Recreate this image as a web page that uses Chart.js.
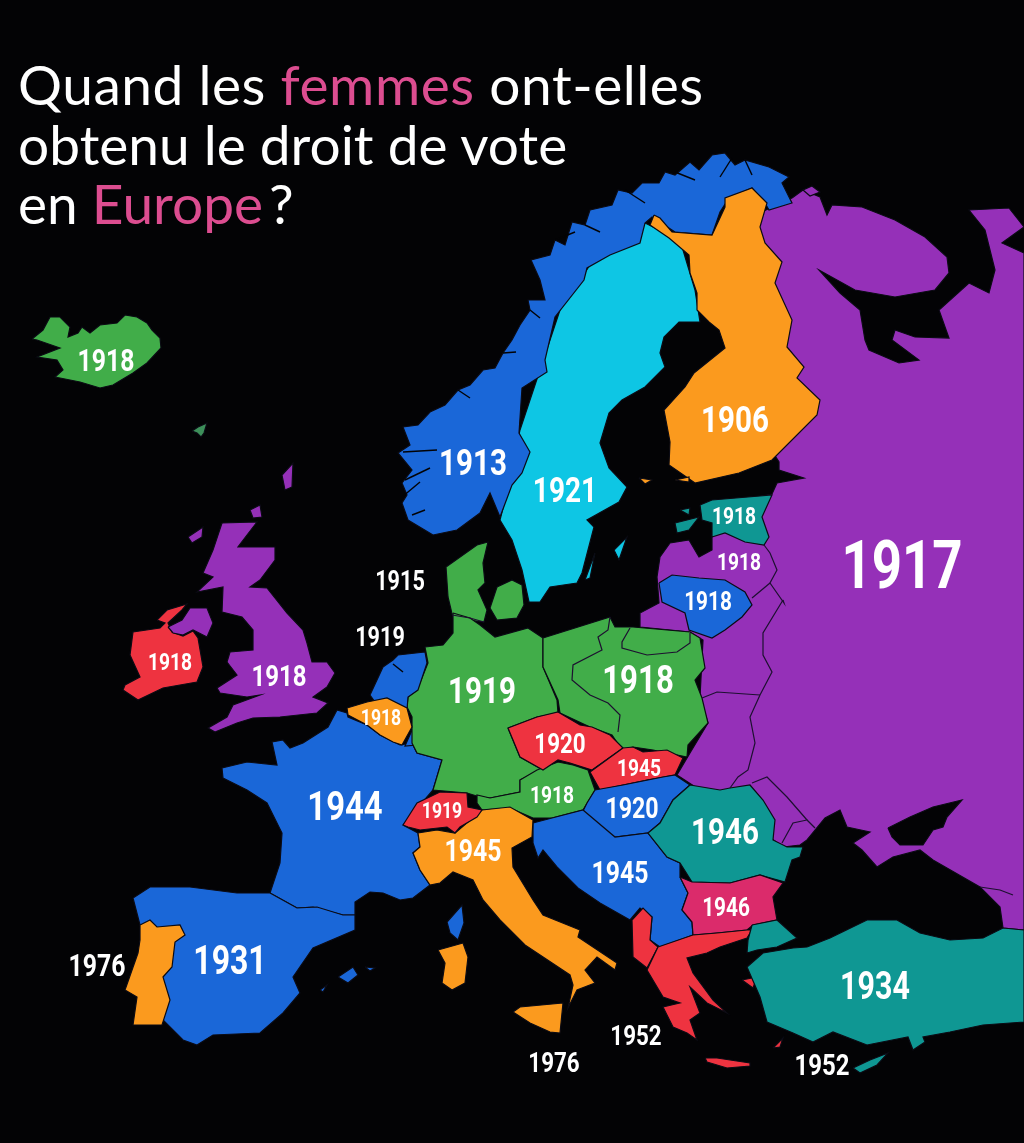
<!DOCTYPE html>
<html lang="fr">
<head>
    <meta charset="UTF-8">
    <title>Droit de vote des femmes en Europe</title>
    <script src="https://cdn.jsdelivr.net/npm/chart.js"></script>
    <style>
        html, body { margin: 0; padding: 0; background: #030305; }
        #wrap { position: relative; width: 1024px; height: 1143px; overflow: hidden; }
        #myChart { position: absolute; left: 0; top: 0; }
        #title {
            position: absolute; left: 18px; top: 55px; margin: 0;
            font: 400 55px/59.5px Lato, sans-serif; color: #fff; white-space: nowrap;
        }
        #title span { color: #dc4d90; }
        #title .wide { color: #fff; letter-spacing: 0.55px; }
        #title .wide span { color: #dc4d90; }
        #title .mark { color: #fff; margin-left: 6px; }
    </style>
</head>
<body>
<div id="wrap">
    <canvas id="myChart" width="1024" height="1143"></canvas>
    <h1 id="title"><span class="wide">Quand les <span>femmes</span> ont-elles</span><br>obtenu le droit de vote<br>en <span>Europe</span><span class="mark">?</span></h1>
</div>

<script>
    // contours des pays (unités de la carte)
    const russia = [[792,198],[803,190],[820,197],[827,215],[832,205],[862,207],[895,220],[925,237],[947,257],[949,273],[935,290],[895,297],[855,290],[819,270],[840,293],[860,310],[865,340],[869,350],[899,363],[919,360],[892,340],[895,330],[915,337],[949,338],[939,310],[969,283],[989,293],[995,270],[985,230],[969,210],[1009,208],[1024,227],[1002,243],[1024,253],[1024,930],[1003,928],[1000,907],[980,887],[933,860],[920,850],[893,857],[877,867],[862,850],[853,843],[870,832],[847,827],[840,810],[825,818],[807,840],[800,845],[783,847],[760,830],[700,790],[677,775],[690,753],[708,723],[700,697],[703,640],[690,632],[640,627],[640,613],[659,603],[657,577],[660,557],[670,543],[689,540],[699,557],[712,550],[712,535],[730,525],[740,500],[772,494],[777,483],[804,478],[779,470],[779,462],[765,440],[750,400],[740,300],[745,220],[770,208]];
    const kolguev = [[803,190],[812,186],[820,192],[810,196]];
    const azov = [[888,828],[910,817],[933,807],[962,800],[947,817],[943,827],[933,830],[923,845],[900,845],[892,837]];
    const sweden = [[645,223],[680,240],[695,290],[700,322],[679,322],[664,337],[660,353],[665,367],[645,387],[622,400],[609,413],[600,443],[609,468],[627,487],[619,502],[587,520],[594,527],[582,573],[577,583],[550,587],[540,602],[529,602],[522,570],[512,540],[500,520],[510,480],[520,430],[540,370],[560,310],[590,265]];
    const gotland = [[614,550],[627,537],[619,560]];
    const oland = [[585,580],[595,553],[590,578]];
    const norway = [[433,535],[408,520],[402,503],[407,495],[402,483],[412,470],[398,453],[410,445],[403,427],[418,425],[430,412],[445,405],[458,390],[470,385],[483,370],[495,368],[503,353],[512,340],[520,325],[530,310],[528,300],[545,300],[540,280],[531,260],[550,255],[555,240],[565,245],[572,222],[585,225],[590,210],[612,205],[618,190],[632,193],[642,183],[659,183],[665,172],[675,175],[690,162],[699,170],[712,155],[725,153],[735,165],[745,160],[769,167],[789,177],[782,183],[792,203],[769,210],[765,203],[752,188],[729,198],[720,212],[712,235],[675,232],[652,217],[645,223],[640,243],[610,255],[587,268],[584,280],[555,317],[545,360],[547,372],[522,388],[519,433],[530,452],[522,473],[512,485],[500,517],[490,493],[480,513],[457,530]];
    const finland = [[654,215],[660,218],[672,232],[712,235],[725,207],[725,198],[752,188],[767,203],[760,227],[765,243],[782,262],[775,283],[792,320],[787,347],[804,367],[797,378],[820,400],[817,415],[772,460],[739,473],[695,483],[669,465],[670,442],[664,410],[685,387],[694,373],[725,348],[719,330],[709,322],[697,310],[697,293],[690,273],[689,255],[669,238],[650,225]];
    const aland1 = [[639,478],[652,480],[645,484]];
    const aland2 = [[675,480],[689,477],[689,482]];
    const estonia = [[700,505],[712,500],[772,495],[762,517],[769,537],[764,545],[745,542],[725,533],[712,537],[712,523],[702,520]];
    const saaremaa = [[675,523],[699,517],[689,530],[677,533]];
    const hiiumaa = [[680,510],[690,508],[689,515]];
    const lithuania = [[659,583],[672,575],[699,578],[725,580],[745,592],[752,605],[742,617],[725,630],[712,638],[689,630],[685,613],[662,602]];
    const iceland = [[32,339],[43,330],[50,317],[60,317],[70,327],[68,337],[78,333],[82,327],[90,333],[100,325],[117,323],[125,315],[137,317],[147,323],[152,330],[160,338],[161,348],[147,363],[133,373],[113,385],[100,388],[80,382],[55,377],[63,370],[57,360],[37,357],[60,348],[37,340]];
    const faroe = [[192,431],[198,427],[207,423],[204,433],[201,437],[197,433]];
    const shetland = [[282,475],[293,463],[292,487],[285,490]];
    const orkney = [[250,510],[260,505],[262,517],[253,518]];
    const hebrides = [[188,537],[203,527],[202,537],[192,543]];
    const britain = [[222,523],[257,522],[247,535],[238,547],[275,547],[275,560],[260,580],[250,587],[267,588],[287,613],[303,630],[307,643],[312,662],[327,662],[335,673],[327,687],[313,697],[328,703],[317,713],[280,717],[253,718],[237,723],[215,732],[208,728],[227,717],[233,705],[260,695],[247,697],[220,693],[217,688],[237,675],[227,662],[230,652],[253,650],[253,630],[242,617],[222,612],[223,587],[197,592],[213,577],[203,573],[213,550]];
    const ulster = [[168,627],[182,620],[190,608],[207,608],[213,623],[207,637],[193,630],[183,635],[173,633]];
    const ireland = [[157,620],[167,610],[187,604],[182,610],[168,623],[172,632],[183,636],[193,631],[198,638],[203,667],[197,682],[163,688],[138,700],[123,690],[125,685],[140,677],[130,655],[133,632],[160,628],[165,623]];
    const jutland = [[477,545],[488,542],[483,563],[485,583],[478,590],[487,610],[484,622],[453,618],[448,597],[446,567]];
    const zealand = [[497,587],[512,580],[522,585],[524,605],[517,618],[497,620],[490,608]];
    const germany = [[453,613],[470,618],[480,625],[495,637],[528,628],[543,638],[543,667],[557,700],[558,713],[537,717],[508,728],[520,757],[543,770],[520,780],[520,792],[490,798],[480,797],[467,793],[433,790],[442,760],[417,753],[412,743],[412,717],[407,707],[408,697],[417,690],[428,663],[425,647],[443,645],[453,633]];
    const poland = [[543,638],[610,617],[615,627],[633,627],[690,632],[700,638],[705,668],[695,680],[702,698],[708,723],[688,745],[687,757],[653,750],[633,747],[622,750],[612,735],[590,727],[560,713],[558,700],[543,667]];
    const austria = [[520,780],[537,770],[558,762],[573,765],[588,770],[595,790],[583,810],[552,818],[533,818],[510,808],[482,810],[477,803],[477,795],[490,798],[520,792]];
    const czech = [[508,728],[537,717],[558,712],[580,725],[592,727],[610,735],[623,748],[592,770],[570,763],[558,760],[543,770],[520,757],[513,740]];
    const slovakia = [[623,748],[633,747],[643,752],[667,750],[683,758],[675,775],[647,780],[623,785],[600,790],[590,772]];
    const hungary = [[595,790],[623,785],[663,777],[675,775],[690,785],[673,800],[660,823],[648,833],[615,837],[597,827],[582,813],[587,803]];
    const romania = [[690,785],[720,790],[730,788],[750,785],[763,800],[775,820],[773,840],[787,847],[803,847],[800,857],[792,860],[785,882],[760,875],[730,883],[692,882],[680,863],[667,857],[648,833],[660,823],[673,800]];
    const bulgaria = [[680,877],[692,882],[730,883],[760,875],[783,883],[773,897],[777,920],[753,925],[747,930],[717,933],[693,935],[692,922],[682,910],[688,893]];
    const yugoslavia = [[533,823],[552,818],[583,810],[615,837],[648,833],[667,857],[680,863],[680,877],[688,893],[682,910],[692,922],[693,935],[660,947],[650,940],[652,917],[640,908],[630,920],[600,903],[578,888],[557,867],[543,850],[538,858],[533,843]];
    const albania = [[632,920],[643,908],[652,917],[650,940],[658,947],[647,968],[633,957]];
    const greece = [[658,947],[693,935],[717,933],[747,930],[752,930],[747,938],[720,947],[707,953],[687,958],[693,973],[713,1000],[727,1013],[707,1003],[690,987],[700,1013],[690,1020],[697,1040],[687,1033],[673,1027],[663,1007],[680,1003],[663,997],[647,970]];
    const crete = [[705,1058],[717,1058],[750,1063],[750,1066],[727,1068],[707,1062]];
    const rhodes = [[773,1048],[783,1038],[780,1047]];
    const lesbos = [[742,980],[757,977],[753,988]];
    const thrace = [[752,925],[777,920],[797,938],[777,947],[757,950],[747,953],[748,940]];
    const anatolia = [[807,947],[830,938],[867,920],[897,920],[920,933],[950,940],[983,938],[1003,928],[1024,930],[1024,1022],[983,1025],[950,1032],[923,1037],[925,1042],[913,1050],[908,1037],[867,1045],[833,1032],[813,1042],[793,1033],[767,1022],[760,997],[747,967],[763,953],[793,948]];
    const cyprus = [[853,1068],[870,1060],[888,1053],[877,1065],[860,1073]];
    const italy = [[437,830],[455,833],[482,810],[510,807],[533,820],[532,837],[512,848],[513,867],[533,900],[543,915],[580,930],[578,937],[617,963],[615,970],[597,957],[585,970],[595,983],[577,990],[568,1008],[573,985],[570,975],[525,945],[500,920],[483,900],[473,880],[453,872],[440,883],[430,885],[420,870],[413,853],[420,847],[418,833]];
    const sicily = [[513,1012],[520,1007],[563,1003],[560,1033],[550,1032],[530,1023]];
    const sardinia = [[438,950],[463,943],[468,957],[465,983],[452,990],[442,983],[445,963]];
    const corsica = [[447,922],[462,905],[464,923],[458,940],[450,933]];
    const switzerland = [[403,825],[417,803],[440,792],[467,793],[468,807],[482,810],[477,817],[460,827],[455,833],[447,827],[420,830],[408,827]];
    const france = [[337,710],[347,713],[348,717],[367,725],[380,735],[400,745],[412,743],[417,753],[442,760],[433,790],[403,825],[418,833],[420,847],[413,853],[420,870],[430,885],[413,898],[400,900],[383,893],[370,892],[355,902],[355,915],[343,915],[313,907],[297,908],[270,893],[280,863],[282,833],[267,803],[247,790],[223,778],[222,768],[247,762],[277,765],[272,742],[283,740],[290,748],[303,743],[328,727]];
    const spain = [[133,898],[150,887],[190,887],[237,893],[270,893],[297,908],[317,907],[343,915],[355,915],[355,930],[313,948],[293,977],[300,993],[283,1013],[260,1033],[213,1035],[197,1045],[183,1040],[163,1020],[150,960],[140,925]];
    const portugal = [[140,925],[150,920],[157,927],[180,925],[185,935],[175,942],[172,967],[163,977],[170,1000],[162,1025],[133,1025],[137,997],[125,990],[138,953],[140,940]];
    const majorca = [[338,977],[353,967],[358,975],[348,983]];
    const minorca = [[365,967],[375,968],[370,971]];
    const ibiza = [[320,990],[327,985],[323,992]];
    const netherlands = [[370,695],[383,667],[393,660],[398,655],[425,652],[427,663],[418,690],[408,697],[407,710],[387,700],[375,702]];
    const belgium = [[347,708],[367,702],[387,698],[407,708],[412,727],[402,745],[393,742],[380,735],[367,725],[348,715]];
    const luxembourg = [[413,728],[417,745],[405,746]];

    // frontières intérieures, traits seuls
    const borderLines = [
        [[610,617],[608,630],[598,637],[602,650],[573,665],[572,680],[590,695],[608,703],[620,715],[618,732]],
        [[630,628],[622,642],[622,648],[647,655],[677,652],[690,643],[690,633]],
        [[702,698],[717,692],[760,695]],
        [[783,600],[763,633],[763,655],[772,672],[760,695],[750,717],[755,743],[748,770],[738,777],[730,788]],
        [[764,545],[770,553],[777,570],[770,583],[784,603],[783,600]],
        [[770,583],[752,598]],
        [[752,783],[767,777],[787,797],[807,820],[793,823],[782,843]],
        [[807,820],[815,828]],
        [[980,887],[1000,890],[1013,895]],
        [[452,615],[470,618],[484,622]]
    ];

    // fjords et baies, traits noirs sur la côte
    const fjordLines = [
        [[403,452],[437,450]],
        [[405,480],[430,468]],
        [[402,497],[420,482]],
        [[425,510],[412,515]],
        [[555,240],[575,232]],
        [[585,225],[600,232]],
        [[625,190],[645,203]],
        [[675,172],[695,180]],
        [[720,177],[732,158]],
        [[745,160],[752,175]],
        [[458,390],[470,398]],
        [[503,353],[516,352]],
        [[530,310],[540,318]],
        [[393,664],[403,672]]
    ];

    const GREEN = '#41ad49', BLUE = '#1a67d8', CYAN = '#0ec6e4', ORANGE = '#fb9a1e';
    const PURPLE = '#9530b8', TEAL = '#0f9793', RED = '#ee3340', CRIMSON = '#db2b6b', SEA = '#030305';

    // du fond vers le dessus
    const shapeList = [
        [russia, PURPLE], [kolguev, PURPLE], [azov, SEA], [sweden, CYAN], [gotland, CYAN], [oland, CYAN],
        [norway, BLUE], [finland, ORANGE], [aland1, ORANGE], [aland2, ORANGE],
        [estonia, TEAL], [saaremaa, TEAL], [hiiumaa, TEAL], [lithuania, BLUE],
        [iceland, GREEN], [faroe, '#3d8f5a'], [shetland, PURPLE], [orkney, PURPLE], [hebrides, PURPLE],
        [britain, PURPLE], [ireland, RED], [ulster, PURPLE],
        [france, BLUE], [luxembourg, BLUE], [spain, BLUE], [portugal, ORANGE],
        [majorca, BLUE], [minorca, BLUE], [ibiza, BLUE], [corsica, BLUE],
        [jutland, GREEN], [zealand, GREEN], [germany, GREEN], [netherlands, BLUE], [belgium, ORANGE],
        [poland, GREEN], [austria, GREEN], [czech, RED], [slovakia, RED], [hungary, BLUE],
        [yugoslavia, BLUE], [romania, TEAL], [bulgaria, CRIMSON], [albania, RED], [greece, RED],
        [crete, RED], [rhodes, RED], [lesbos, RED], [thrace, TEAL], [anatolia, TEAL], [cyprus, TEAL],
        [italy, ORANGE], [sicily, ORANGE], [sardinia, ORANGE], [switzerland, RED]
    ];

    // années affichées sur la carte
    const labelYears = ['1918','1913','1921','1906','1918','1918','1918','1917','1915','1919','1918','1918','1919','1918','1918','1920','1945','1918','1920','1944','1919','1945','1946','1945','1946','1976','1931','1934','1952','1976','1952'];
    const labelX = [106,473,565,735,734,739,708,902,400,380,170,279,482,638,381,560,639,552,632,345,442,473,725,620,726,97,230,875,636,554,822];
    const labelY = [361,463,491,420,516,562,602,567,581,637,662,676,691,681,718,744,768,795,809,807,811,851,832,873,908,966,961,987,1036,1063,1065];
    const labelSizes = [31,37,35,37,24,24,26,66,27,27,24,30,37,39,22,28,24,24,29,41,22,31,37,31,26,31,40,38,28,28,30];

    function toPoints(list) {
        const pts = list.map(p => ({ x: p[0], y: p[1] }));
        pts.push({ x: list[0][0], y: list[0][1] });  // on referme le contour
        return pts;
    }

    const datasets = [];
    shapeList.forEach(s => {
        datasets.push({
            data: toPoints(s[0]),
            showLine: true,
            fill: 'shape',
            backgroundColor: s[1],
            borderColor: '#0b0b14',
            borderWidth: 1.2,
            pointRadius: 0,
            tension: 0
        });
    });
    borderLines.forEach(l => {
        datasets.push({
            data: l.map(p => ({ x: p[0], y: p[1] })),
            showLine: true,
            fill: false,
            borderColor: '#1d1030',
            borderWidth: 1.2,
            pointRadius: 0
        });
    });
    fjordLines.forEach(l => {
        datasets.push({
            data: l.map(p => ({ x: p[0], y: p[1] })),
            showLine: true,
            fill: false,
            borderColor: SEA,
            borderWidth: 1.4,
            pointRadius: 0
        });
    });
    datasets.reverse();  // Chart.js dessine le premier dataset en dernier

    const yearLabels = {
        id: 'yearLabels',
        afterDatasetsDraw(chart) {
            const { ctx, scales } = chart;
            ctx.textAlign = 'center';
            ctx.textBaseline = 'middle';
            ctx.fillStyle = '#fff';
            labelYears.forEach((year, i) => {
                const size = labelSizes[i];
                ctx.save();
                ctx.translate(scales.x.getPixelForValue(labelX[i]), scales.y.getPixelForValue(labelY[i]) + size * 0.07);
                ctx.scale(0.8, 1);  // chiffres étroits comme sur l'original
                ctx.font = `700 ${size}px Roboto, sans-serif`;
                ctx.fillText(year, 0, 0);
                ctx.restore();
            });
        }
    };

    new Chart(document.getElementById('myChart').getContext('2d'), {
        type: 'scatter',
        data: { datasets: datasets },
        plugins: [yearLabels],
        options: {
            responsive: false,
            animation: false,
            devicePixelRatio: 1,
            layout: { padding: 0 },
            plugins: { legend: { display: false }, tooltip: { enabled: false }, title: { display: false } },
            scales: {
                x: { type: 'linear', min: 0, max: 1024, display: false },
                y: { type: 'linear', min: 0, max: 1143, reverse: true, display: false }
            }
        }
    });
</script>
</body>
</html>
